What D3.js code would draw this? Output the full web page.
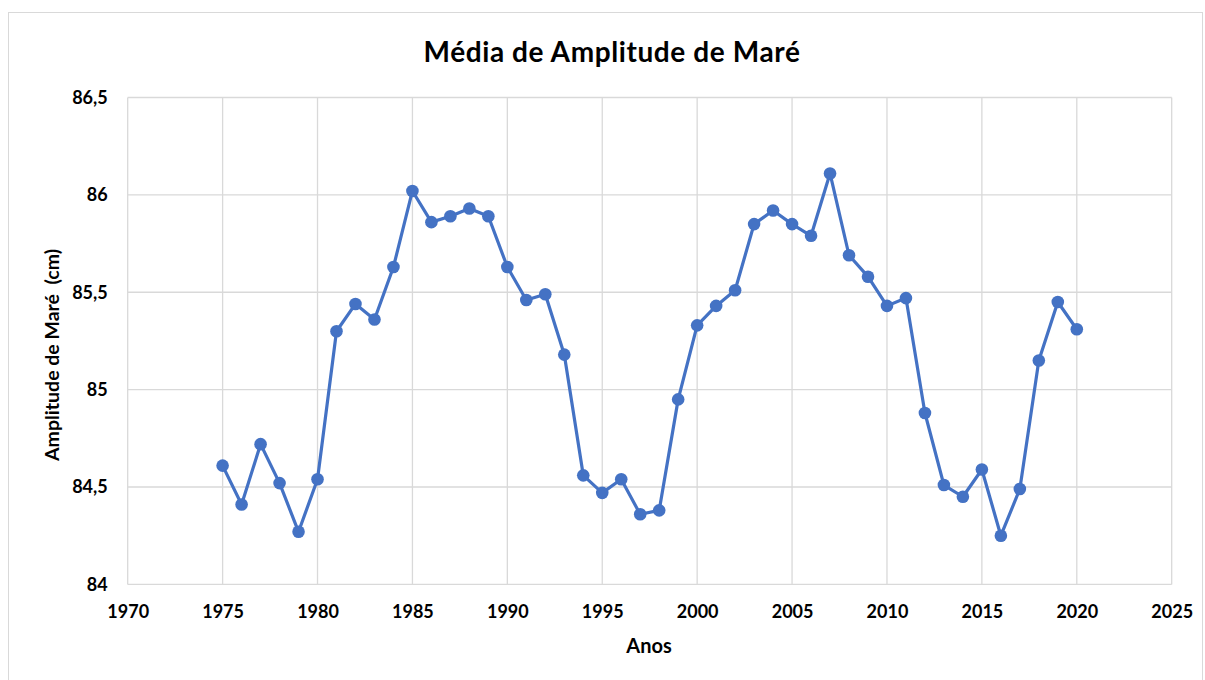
<!DOCTYPE html>
<html>
<head>
<meta charset="utf-8">
<script src="https://cdn.jsdelivr.net/npm/d3@7"></script>
<style>
  body { margin: 0; background: #fff; }
  text { font-family: Lato, "Open Sans", sans-serif; font-weight: bold; fill: #000; }
</style>
</head>
<body>
<script>
// dados
const anos = [1975, 1976, 1977, 1978, 1979, 1980, 1981, 1982, 1983, 1984,
              1985, 1986, 1987, 1988, 1989, 1990, 1991, 1992, 1993, 1994,
              1995, 1996, 1997, 1998, 1999, 2000, 2001, 2002, 2003, 2004,
              2005, 2006, 2007, 2008, 2009, 2010, 2011, 2012, 2013, 2014,
              2015, 2016, 2017, 2018, 2019, 2020];
const amplitude = [84.61, 84.41, 84.72, 84.52, 84.27, 84.54, 85.30, 85.44, 85.36, 85.63,
                   86.02, 85.86, 85.89, 85.93, 85.89, 85.63, 85.46, 85.49, 85.18, 84.56,
                   84.47, 84.54, 84.36, 84.38, 84.95, 85.33, 85.43, 85.51, 85.85, 85.92,
                   85.85, 85.79, 86.11, 85.69, 85.58, 85.43, 85.47, 84.88, 84.51, 84.45,
                   84.59, 84.25, 84.49, 85.15, 85.45, 85.31];
const xTicks = [1970, 1975, 1980, 1985, 1990, 1995, 2000, 2005, 2010, 2015, 2020, 2025];
const yTicks = [84, 84.5, 85, 85.5, 86, 86.5];

const titulo = "Média de Amplitude de Maré";
const tituloX = "Anos";
const tituloY = "Amplitude de Maré  (cm)";

const width = 1205, height = 680;
const margin = {top: 97.5, left: 127.7, right: 1205 - 1171.7, bottom: 680 - 584.4};
const plotW = width - margin.left - margin.right;
const plotH = height - margin.top - margin.bottom;

const svg = d3.select('body').append('svg')
    .attr('width', width)
    .attr('height', height);

// moldura
svg.append('rect')
    .attr('x', 8.5).attr('y', 12.5)
    .attr('width', 1194).attr('height', 700)
    .attr('fill', 'none')
    .attr('stroke', '#d9d9d9');

const g = svg.append('g')
    .attr('transform', `translate(${margin.left},${margin.top})`);

const x = d3.scaleLinear().domain([1970, 2025]).range([0, plotW]);
const y = d3.scaleLinear().domain([84, 86.5]).range([plotH, 0]);

const fmt = v => String(v).replace('.', ',');

// grade
g.append('g').selectAll('line').data(xTicks).join('line')
    .attr('x1', d => x(d)).attr('x2', d => x(d))
    .attr('y1', 0).attr('y2', plotH)
    .attr('stroke', '#d9d9d9').attr('stroke-width', 1.3);
g.append('g').selectAll('line').data(yTicks).join('line')
    .attr('x1', 0).attr('x2', plotW)
    .attr('y1', d => y(d)).attr('y2', d => y(d))
    .attr('stroke', '#d9d9d9').attr('stroke-width', 1.3);

// eixos (só rótulos)
const xAxis = d3.axisBottom(x).tickValues(xTicks).tickSize(0).tickPadding(21).tickFormat(d3.format('d'));
const gx = g.append('g').attr('transform', `translate(0,${plotH})`).call(xAxis);
gx.select('.domain').remove();
gx.selectAll('text').attr('font-size', 18).style('font-family', null);

const yAxis = d3.axisLeft(y).tickValues(yTicks).tickSize(0).tickPadding(20).tickFormat(fmt);
const gy = g.append('g').call(yAxis);
gy.select('.domain').remove();
gy.selectAll('text').attr('font-size', 18).style('font-family', null);

// série
const pts = anos.map((a, i) => [a, amplitude[i]]);
const line = d3.line().x(d => x(d[0])).y(d => y(d[1]));
g.append('path')
    .datum(pts)
    .attr('d', line)
    .attr('fill', 'none')
    .attr('stroke', '#4472c4')
    .attr('stroke-width', 3.2)
    .attr('stroke-linejoin', 'round');
g.append('g').selectAll('circle').data(pts).join('circle')
    .attr('cx', d => x(d[0]))
    .attr('cy', d => y(d[1]))
    .attr('r', 6.3)
    .attr('fill', '#4472c4');

// títulos
svg.append('text')
    .attr('x', 612).attr('y', 62)
    .attr('text-anchor', 'middle')
    .attr('font-size', 28)
    .attr('letter-spacing', 0.6)
    .text(titulo);

svg.append('text')
    .attr('x', 649).attr('y', 653)
    .attr('text-anchor', 'middle')
    .attr('font-size', 20)
    .text(tituloX);

svg.append('text')
    .attr('transform', `translate(59,${margin.top + plotH / 2 + 14}) rotate(-90)`)
    .attr('text-anchor', 'middle')
    .attr('font-size', 19.5)
    .style('white-space', 'pre')
    .text(tituloY);
</script>
</body>
</html>
